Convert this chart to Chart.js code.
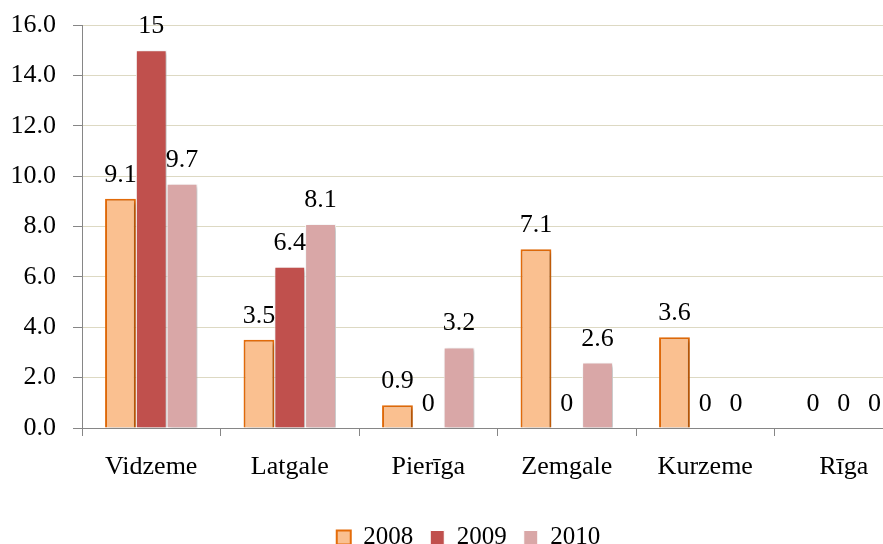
<!DOCTYPE html>
<html>
<head>
<meta charset="utf-8">
<script src="https://cdn.jsdelivr.net/npm/chart.js@4"></script>
<style>
html,body{margin:0;padding:0;background:#fff;overflow:hidden;width:883px;height:544px;}
#wrap{width:960px;height:560px;position:relative;}
</style>
</head>
<body>
<div id="wrap"><canvas id="c" width="960" height="560"></canvas></div>
<script>
const categories = ['Vidzeme', 'Latgale', 'Pierīga', 'Zemgale', 'Kurzeme', 'Rīga'];
const series2008 = [9.1, 3.5, 0.9, 7.1, 3.6, 0];
const series2009 = [15, 6.4, 0, 0, 0, 0];
const series2010 = [9.7, 8.1, 3.2, 2.6, 0, 0];
const seriesNames = ['2008', '2009', '2010'];
const yTicks = [0, 2, 4, 6, 8, 10, 12, 14, 16];

const FONT = 'Liberation Serif';
const PLOT_BOTTOM = 428;
const LEGEND_SHIFT = 12;

const shadowPlugin = {
  id: 'barShadow',
  beforeDatasetDraw(chart) {
    const ctx = chart.ctx;
    ctx.save();
    ctx.shadowColor = 'rgba(0,0,0,0.28)';
    ctx.shadowBlur = 4;
    ctx.shadowOffsetX = 2;
    ctx.shadowOffsetY = 2;
  },
  afterDatasetDraw(chart) {
    chart.ctx.restore();
  }
};

const legendShiftPlugin = {
  id: 'legendShift',
  afterLayout(chart) {
    if (chart.legend) {
      chart.legend.left += LEGEND_SHIFT;
      chart.legend.right += LEGEND_SHIFT;
    }
  }
};

const labelPlugin = {
  id: 'valueLabels',
  afterDatasetsDraw(chart) {
    const ctx = chart.ctx;
    ctx.save();
    ctx.font = '26px "' + FONT + '"';
    ctx.fillStyle = '#000';
    ctx.textAlign = 'center';
    ctx.textBaseline = 'alphabetic';
    chart.data.datasets.forEach((ds, i) => {
      const meta = chart.getDatasetMeta(i);
      meta.data.forEach((el, j) => {
        const v = ds.data[j];
        ctx.fillText(String(v), el.x, el.y - 17);
      });
    });
    ctx.restore();
  }
};

new Chart(document.getElementById('c'), {
  type: 'bar',
  data: {
    labels: categories,
    datasets: [
      { label: seriesNames[0], data: series2008, backgroundColor: '#FAC090', borderColor: '#E46C0A', borderWidth: 2 },
      { label: seriesNames[1], data: series2009, backgroundColor: '#C0504D', borderColor: '#FFFFFF', borderWidth: 1 },
      { label: seriesNames[2], data: series2010, backgroundColor: '#D9A7A7', borderColor: '#FFFFFF', borderWidth: 1 }
    ]
  },
  options: {
    responsive: false,
    animation: false,
    events: [],
    layout: { padding: { top: 25, right: 47, left: 0, bottom: 0 } },
    datasets: { bar: { categoryPercentage: 0.667, barPercentage: 1.0 } },
    plugins: {
      tooltip: { enabled: false },
      legend: {
        position: 'bottom',
        labels: {
          font: { family: FONT, size: 25 },
          color: '#000',
          boxWidth: 14,
          boxHeight: 14,
          padding: 17
        }
      }
    },
    scales: {
      x: {
        grid: { display: true, drawOnChartArea: false, offset: true, color: '#868686', tickLength: 8 },
        border: { color: '#868686', width: 1 },
        ticks: { font: { family: FONT, size: 26 }, color: '#000', padding: 16, maxRotation: 0, autoSkip: false },
        afterFit(axis) {
          axis.height = axis.chart.height - PLOT_BOTTOM - axis.chart.legend.height;
          axis.paddingLeft = 0; axis.paddingRight = 0;
        }
      },
      y: {
        min: 0, max: 16,
        afterBuildTicks(axis) { axis.ticks = yTicks.map(v => ({ value: v })); },
        grid: { color: '#DDD9C3', tickColor: '#868686', tickLength: 9 },
        border: { color: '#868686', width: 1 },
        ticks: { font: { family: FONT, size: 26 }, color: '#000', padding: 17,
          callback: v => Number(v).toFixed(1) },
        afterFit(axis) {
          axis.width = 82;
          axis.paddingTop = 0; axis.paddingBottom = 0;
        }
      }
    }
  },
  plugins: [shadowPlugin, labelPlugin, legendShiftPlugin]
});
</script>
</body>
</html>
